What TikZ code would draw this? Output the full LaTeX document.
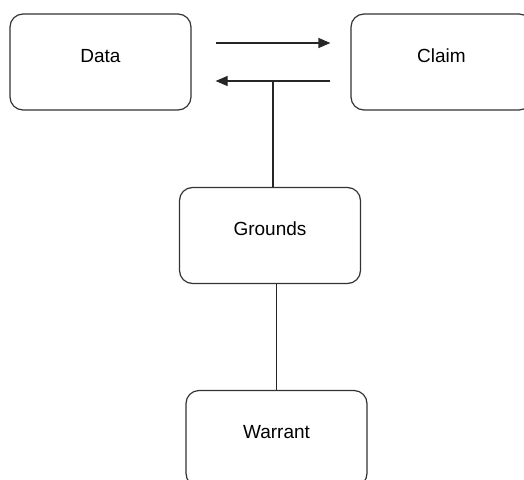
\documentclass[tikz,border=0pt]{standalone}
\usepackage{fontspec}
\setmainfont{Liberation Sans}
\usetikzlibrary{arrows.meta,calc}

\begin{document}
\begin{tikzpicture}[x=1pt,y=-1pt,
  box/.style={draw=black!80,line width=1.2pt,rounded corners=13pt,
    minimum width=181pt,minimum height=96pt,inner sep=0pt,
    text height=14pt,text depth=14pt,font=\fontsize{19}{22}\selectfont},
  link/.style={black!85,line width=1.2pt},
  arr/.style={link,-{Triangle[length=12pt,width=10pt]}}]
\clip (0,0) rectangle (524,479);
\node[box] (data) at (100.5,62) {Data};
\node[box] (claim) at (441.5,62) {Claim};
\node[box] (grounds) at (270,235.5) {Grounds};
\node[box] (warrant) at (276.5,438.5) {Warrant};
\coordinate (hi) at ([yshift=19pt]data.east);
\coordinate (lo) at ([yshift=-19pt]data.east);
\coordinate (mid) at (273,81);
\draw[arr,shorten <=24pt,shorten >=20pt] (hi) -- (hi -| claim.west);
\draw[arr,shorten <=20pt,shorten >=24pt] (lo -| claim.west) -- (lo);
\draw[link] (mid) -- (mid |- grounds.north);
\draw[link] (warrant.north |- grounds.south) -- (warrant.north);
\end{tikzpicture}
\end{document}
